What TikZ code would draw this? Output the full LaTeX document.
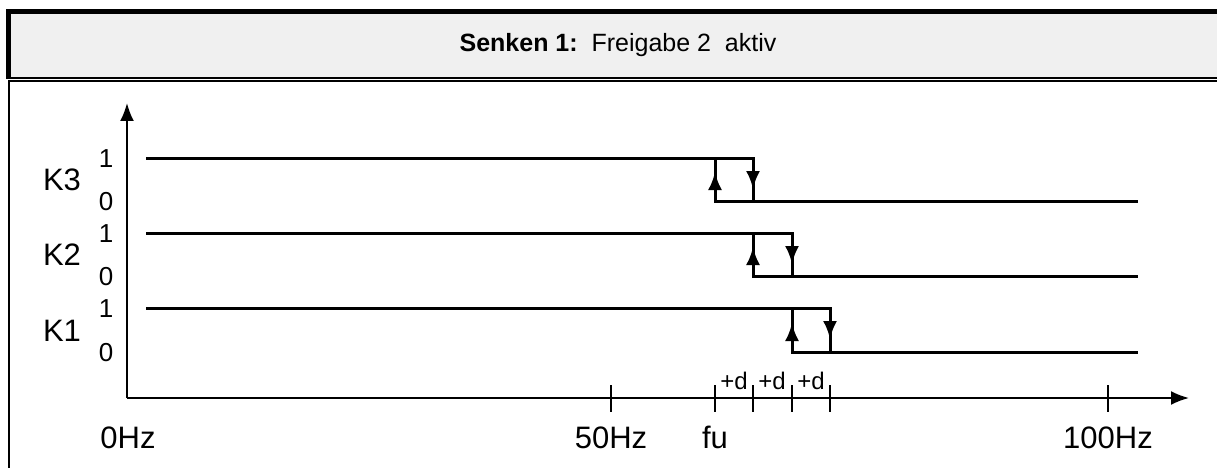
\documentclass[tikz,border=0pt]{standalone}
\usepackage{fontspec}
\setmainfont{Liberation Sans}
\usetikzlibrary{arrows.meta}
\definecolor{kopfgrau}{HTML}{F0F0F0}
\newcommand\kanal[6]{% name, y of 1, y of 0, x rise, x fall, label
  \coordinate (#1a) at (146,#2);
  \coordinate (#1b) at (#5,#2);
  \coordinate (#1c) at (#5,#3);
  \coordinate (#1d) at (1138,#3);
  \coordinate (#1e) at (#4,#2);
  \coordinate (#1f) at (#4,#3);
  \draw[signal] (#1a) -- (#1b) -- (#1c);
  \draw[signal] (#1e) -- (#1f) -- (#1d);
  \draw[signal,pfeil] (#1f) -- ++(0,-29);
  \draw[signal,pfeil] (#1b) -- ++(0,31);
  \node[kname] (#1n) at (62,{(#2+#3)/2+11}) {#6};
  \node[pegel] (#1h) at (106,#2+9) {1};
  \node[pegel] (#1l) at (106,#3+9) {0};
}
\newcommand\marke[3]{% name, x, label below
  \coordinate (#1o) at (#2,385);
  \coordinate (#1u) at (#2,412);
  \draw[achse] (#1o) -- (#1u);
  \node[hz] (#1t) at (#2,448) {#3};
}

\begin{document}
\begin{tikzpicture}[x=1pt,y=-1pt]
  \tikzset{
    signal/.style={line width=3pt},
    achse/.style={line width=2pt},
    pfeil/.style={-{Latex[length=18pt,width=14pt]}},
    kname/.style={anchor=base,inner sep=0pt,font=\fontsize{31}{31}\selectfont},
    pegel/.style={anchor=base,inner sep=0pt,font=\fontsize{26}{26}\selectfont},
    hz/.style={anchor=base,inner sep=0pt,font=\fontsize{31}{31}\selectfont},
    plusd/.style={anchor=base,inner sep=0pt,font=\fontsize{24}{24}\selectfont},
  }
  \useasboundingbox (0,0) rectangle (1217,468);

  % title bar
  \fill[kopfgrau] (8.5,11.5) rectangle (1217,78);
  \draw[line width=5pt] (8.5,78) -- (8.5,11.5) -- (1217,11.5);
  \draw[line width=2pt] (6,78) -- (1217,78);
  \node[font=\fontsize{25}{25}\selectfont] (titel) at (618,45)
    {\textbf{Senken 1:}\ \ Freigabe 2\ \ aktiv};

  % lower frame
  \draw[line width=2pt] (1217,81) -- (9,81) -- (9,468);

  % axes
  \coordinate (ursprung) at (127,398);
  \coordinate (yende) at (127,103);
  \coordinate (xende) at (1189,398);
  \draw[achse,-{Latex[length=18pt,width=14pt]}] (ursprung) -- (yende);
  \draw[achse,-{Latex[length=18pt,width=14pt]}] (ursprung) -- (xende);

  \kanal{kdrei}{158}{201}{715}{753}{K3}
  \kanal{kzwei}{233}{276}{753}{792}{K2}
  \kanal{keins}{308}{352}{792}{830}{K1}

  \marke{ffuenfzig}{611}{50Hz}
  \marke{fu}{715}{fu}
  \marke{dA}{753}{}
  \marke{dB}{792}{}
  \marke{dC}{830}{}
  \marke{fhundert}{1108}{100Hz}
  \node[hz] (null) at (128,448) {0Hz};
  \node[plusd] (d1) at (734,389) {+d};
  \node[plusd] (d2) at (772,389) {+d};
  \node[plusd] (d3) at (811,389) {+d};
\end{tikzpicture}
\end{document}
